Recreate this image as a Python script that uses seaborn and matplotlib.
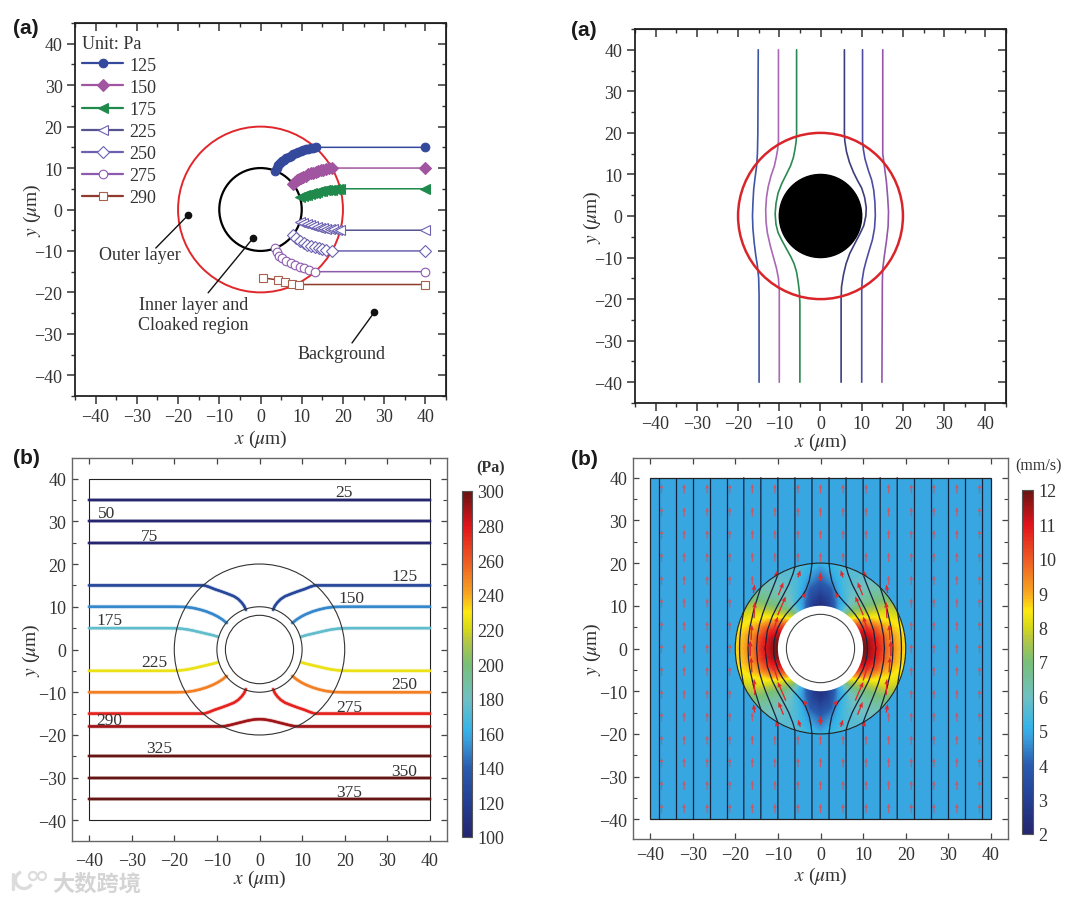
import numpy as np
import seaborn as sns
import matplotlib
matplotlib.use("Agg")
import matplotlib.pyplot as plt
import matplotlib.patheffects as pe
from matplotlib.cm import ScalarMappable
from matplotlib.colors import LinearSegmentedColormap, Normalize
from matplotlib.lines import Line2D
from matplotlib.patches import Arc, Circle, Rectangle
from matplotlib.ticker import MultipleLocator

WIDTH, HEIGHT = 1080, 904

# ---- panel (a) top left: pressure contours with markers
p_levels = ["125", "150", "175", "225", "250", "275", "290"]
p_x = {
    "125": [3.5, 3.9, 4.3, 4.8, 5.3, 5.8, 6.3, 6.8, 7.4, 8, 8.6, 9.2, 9.8, 10.4, 11, 11.6, 12.2, 12.8, 13.5, 40],
    "150": [7.8, 8.3, 8.8, 9.3, 9.8, 10.4, 11, 11.6, 12.2, 12.8, 13.4, 14, 14.6, 15.2, 15.8, 16.5, 17.3, 40],
    "175": [9.6, 10.2, 10.8, 11.4, 12, 12.6, 13.2, 13.8, 14.4, 15, 15.6, 16.2, 16.8, 17.4, 18, 18.7, 19.4, 40],
    "225": [9.6, 10.4, 11.2, 12, 12.8, 13.6, 14.4, 15.2, 16, 16.8, 17.6, 18.5, 19.4, 40],
    "250": [7.8, 8.7, 9.6, 10.5, 11.4, 12.3, 13.2, 14.1, 15, 16, 17.3, 40],
    "275": [3.5, 3.9, 4.5, 5.3, 6.3, 7.3, 8.4, 9.5, 10.6, 11.8, 13.3, 40],
    "290": [0.65, 4.2, 6, 7.7, 9.4, 40],
}
p_y = {
    "125": [9.4, 10.1, 10.7, 11.2, 11.6, 12, 12.4, 12.7, 13, 13.3, 13.6, 13.9, 14.1, 14.3, 14.5, 14.7, 14.8, 14.9, 15, 15],
    "150": [6.2, 6.6, 7, 7.3, 7.6, 7.9, 8.2, 8.5, 8.7, 8.9, 9.1, 9.3, 9.5, 9.6, 9.75, 9.9, 10, 10],
    "175": [3, 3.2, 3.4, 3.6, 3.8, 3.95, 4.1, 4.25, 4.4, 4.5, 4.6, 4.7, 4.75, 4.8, 4.85, 4.95, 5, 5],
    "225": [-3, -3.3, -3.55, -3.8, -4, -4.2, -4.35, -4.5, -4.6, -4.7, -4.8, -4.9, -5, -5],
    "250": [-6.2, -6.95, -7.5, -8, -8.45, -8.8, -9.1, -9.35, -9.6, -9.8, -10, -10],
    "275": [-9.3, -10.3, -11.1, -11.8, -12.4, -12.9, -13.4, -13.8, -14.2, -14.6, -15, -15],
    "290": [-16.5, -17, -17.5, -17.9, -18.1, -18.1],
}
p_colors = ["#34499c", "#a1549f", "#1f8a4c", "#54548f", "#6a62b0", "#8e5aae", "#8f3a2c"]
p_markers = ["o", "D", "<", "<", "D", "o", "s"]
p_filled = [True, True, True, False, False, False, False]
p_marker_edges = ["#34499c", "#a1549f", "#1f8a4c", "#6a62b0", "#6a62b0", "#8e5aae", "#a8604c"]
p_marker_sizes = [6.2, 5.8, 6.5, 6.5, 5.8, 6.2, 5.2]

# ---- panel (a) top right: streamlines
stream_x = {
    0: [-15.1, -15.2, -15.3, -15.5, -15.9, -16.2, -16.4, -16.5, -16.4, -16.1, -15.7, -15.3, -15, -14.9, -14.9],
    1: [-10.2, -10.2, -10.4, -10.7, -11.2, -12, -12.7, -13.1, -13.3, -13.2, -12.9, -12.2, -11.4, -10.7, -10.2, -10, -10],
    2: [-5.8, -5.8, -5.9, -6.2, -6.6, -7.3, -8.3, -9.4, -10.3, -10.8, -11, -10.8, -10.3, -9.3, -8.2, -7.2, -6.4, -5.8,
        -5.4, -5.1, -5, -5],
    3: [5.8, 5.8, 5.9, 6.3, 7, 8, 9, 10, 10.7, 11.1, 11, 10.5, 9.6, 8.4, 7.1, 6.2, 5.6, 5.1, 5, 5],
    4: [10.2, 10.2, 10.4, 10.8, 11.6, 12.4, 12.9, 13.2, 13.3, 13.1, 12.6, 11.9, 11.1, 10.5, 10.1, 10, 10],
    5: [15.1, 15.1, 15.5, 16, 16.3, 16.5, 16.4, 16, 15.5, 15.1, 15, 14.9],
}
stream_y = {
    0: [40, 20, 15, 12, 9, 6.5, 3, 0, -3, -6.3, -9.5, -12, -15, -19, -40],
    1: [40, 18, 16, 14.3, 12, 9.7, 7, 4.5, 1.5, -1.5, -4, -7.1, -10, -12.5, -15, -18, -40],
    2: [40, 20, 18, 16, 14, 12, 10, 7.8, 5.5, 3, 0.5, -2, -4, -6, -8, -9.8, -11.5, -13.5, -16, -18.5, -21, -40],
    3: [40, 20, 18, 15.5, 13, 10.5, 8.5, 6.7, 4.5, 2, 0, -2.3, -4.2, -6.5, -9, -11.5, -14, -17, -20, -40],
    4: [40, 18, 16, 13.7, 11, 8.7, 6.3, 3.3, 0, -3, -5.7, -8, -10.7, -13, -15.5, -18, -40],
    5: [40, 15, 12, 8.1, 4.5, 1, -2.5, -6, -9.5, -12.7, -16, -40],
}
stream_colors = ["#3f55a5", "#ab68b5", "#2b8a52", "#3e3e7c", "#4f4ca3", "#9358ad"]

# ---- panel (b) left: pressure isolines, right half of the bent ones
straight_levels = [25, 50, 75, 325, 350, 375]
straight_y = [35, 30, 25, -25, -30, -35]
bent_levels = [125, 150, 175, 225, 250, 275]
bent_x = {
    125: [3.2, 3.6, 4.2, 5, 6, 7.5, 9, 10.5, 12, 13, 40],
    150: [7.7, 8.7, 9.8, 11, 12.5, 14, 15.5, 17.3, 20, 40],
    175: [9.8, 11, 12.5, 14, 15.5, 17, 18.5, 20, 22, 40],
    225: [9.8, 11, 12.5, 14, 15.5, 17, 18.5, 20, 22, 40],
    250: [7.7, 8.7, 9.8, 11, 12.5, 14, 15.5, 17.3, 20, 40],
    275: [3.2, 3.6, 4.2, 5, 6, 7.5, 9, 10.5, 12, 13, 40],
}
bent_y = {
    125: [9.3, 10.2, 11, 11.8, 12.45, 13.05, 13.6, 14.1, 14.7, 15, 15],
    150: [6.2, 7, 7.7, 8.3, 8.9, 9.35, 9.7, 9.95, 10, 10],
    175: [3, 3.35, 3.7, 4.05, 4.4, 4.7, 4.88, 4.97, 5, 5],
    225: [-3, -3.35, -3.7, -4.05, -4.4, -4.7, -4.88, -4.97, -5, -5],
    250: [-6.2, -7, -7.7, -8.3, -8.9, -9.35, -9.7, -9.95, -10, -10],
    275: [-9.3, -10.2, -11, -11.8, -12.45, -13.05, -13.6, -14.1, -14.7, -15, -15],
}
line_290_x = [-40, -9, -8, -7, -6, -5, -4, -3, -2, -1, 0, 1, 2, 3, 4, 5, 6, 7, 8, 9, 40]
line_290_y = [-18, -18, -17.9, -17.7, -17.45, -17.2, -16.95, -16.7, -16.5, -16.35, -16.3,
              -16.35, -16.5, -16.7, -16.95, -17.2, -17.45, -17.7, -17.9, -18, -18]
iso_labels = ["25", "50", "75", "125", "150", "175", "225", "250", "275", "290", "325", "350", "375"]
iso_label_x = [19.9, -36, -25.7, 34, 21.5, -35.3, -24.7, 34, 21, -35.3, -23.6, 33.9, 21]
iso_label_y = [36.8, 31.9, 26.6, 17.3, 12, 7, -3, -8.1, -13.4, -16.6, -23.1, -28.5, -33.4]

# ---- panel (b) right: speed in the outer layer, one quadrant (rows: angle, cols: radius)
field_r = [10, 12, 14, 16, 18, 20]
field_deg = [0, 10, 20, 30, 40, 50, 60, 70, 80, 90]
field_speed = [
    [12.0, 11.3, 10.6, 9.6, 9.0, 8.6],
    [11.8, 11.2, 10.4, 9.5, 8.9, 8.5],
    [11.3, 10.7, 9.8, 8.9, 8.5, 8.2],
    [10.4, 9.6, 8.6, 8.2, 7.9, 7.5],
    [9.0, 8.0, 7.4, 7.0, 6.8, 6.5],
    [7.6, 6.9, 6.5, 6.3, 6.2, 6.0],
    [5.5, 5.5, 5.8, 5.9, 5.8, 5.7],
    [4.0, 4.6, 5.1, 5.4, 5.5, 5.7],
    [2.8, 3.3, 3.9, 4.6, 5.0, 5.3],
    [2.3, 2.7, 3.4, 4.0, 4.5, 5.0],
]
background_speed = 4.9

line_columns = [-38, -34, -30, -26, -22, 22, 26, 30, 34, 38]
# curved part of the flow lines, upper right quadrant
flow_x = {
    2: [11, 10.92, 10.7, 9.95, 9, 8.07, 6.55, 5.47, 4.16, 3.43, 2.64, 2.24, 2],
    6: [13, 12.49, 11.32, 10.07, 9, 7.47, 6.51, 6],
    10: [15, 14.8, 14.29, 13.57, 12.8, 11.4, 10.55, 10],
    14: [17, 16.9, 16.6, 15.68, 14.59, 14],
    18: [19, 18.94, 18.76, 18.14, 18],
}
flow_y = {
    2: [0, 1.37, 2.68, 4.97, 6.75, 8.07, 9.83, 10.95, 12.49, 13.7, 15.86, 17.93, 19.9],
    6: [0, 4.16, 7.55, 10.07, 12, 14.94, 17.36, 19.08],
    10: [0, 2.96, 5.71, 8.14, 10.24, 13.68, 15.82, 17.32],
    14: [0, 2.41, 4.75, 8.96, 12.5, 14.28],
    18: [0, 2.1, 4.17, 8.06, 8.72],
}

arrow_columns = [-37.3, -32, -26.6, -21.3, -16, -10.7, -5.3, 0, 5.3, 10.7, 16, 21.3, 26.6, 32, 37.3]
arrow_rows = [37.4, 32, 26.7, 21.4, 16, 10.7, 5.3, 0, -5.3, -10.7, -16, -21.4, -26.7, -32, -37.4]
# arrows inside the outer layer, upper right quadrant
inner_arrow_x = [0, 5.0, 10.3, 3.7, 9.3, 9.1, 15.5, 15.6, 10.6, 16.2, 16.5]
inner_arrow_y = [16.8, 17.5, 17.6, 12.6, 14.0, 10.0, 9.0, 14.0, 5.6, 3.8, 0.0]
inner_arrow_u = [0, -0.5, -0.3, -0.8, -1.2, -1.9, -0.2, -0.3, -1.2, -0.2, 0]
inner_arrow_v = [1.9, 1.7, 1.3, 1.0, 3.0, 4.4, 3.8, 2.0, 3.8, 3.6, 3.6]

# ---- colorbars
pa_ticks = [100, 120, 140, 160, 180, 200, 220, 240, 260, 280, 300]
speed_ticks = [2, 3, 4, 5, 6, 7, 8, 9, 10, 11, 12]

sns.set_style("ticks")
plt.rcParams["font.family"] = ["Liberation Serif", "DejaVu Serif"]
plt.rcParams["mathtext.fontset"] = "stix"
plt.rcParams["text.color"] = "#333333"
plt.rcParams["axes.labelcolor"] = "#333333"
plt.rcParams["xtick.color"] = "#333333"
plt.rcParams["ytick.color"] = "#333333"
plt.rcParams["font.size"] = 12.5

comsol = LinearSegmentedColormap.from_list(
    "comsol",
    [
        (0.0, "#25266f"), (0.1, "#243f93"), (0.2, "#2a5cae"), (0.28, "#3a9fdc"),
        (0.31, "#35b4e8"), (0.4, "#70c0c2"), (0.5, "#79bf78"), (0.57, "#b8c840"),
        (0.6, "#d5d81a"), (0.65, "#fde910"), (0.7, "#f8a820"), (0.8, "#ee5a24"),
        (0.9, "#e2131b"), (1.0, "#651513"),
    ],
)
pa_norm = Normalize(100, 300)
speed_norm = Normalize(2, 12)


def px_axes(fig, left, top, right, bottom):
    return fig.add_axes([left / WIDTH, 1 - bottom / HEIGHT, (right - left) / WIDTH, (bottom - top) / HEIGHT])


def set_labels(ax, xlabel_at, ylabel_at):
    ax.set_xlabel(r"$x$ ($\mu$m)", fontsize=14, va="center")
    ax.set_ylabel(r"$y$ ($\mu$m)", fontsize=14, va="center")
    ax.xaxis.set_label_coords(0.5, xlabel_at)
    ax.yaxis.set_label_coords(ylabel_at, 0.5)


def style_line_frame(ax, xlim, ylim, xlabel_at, ylabel_at):
    # top panels: ticks out on left/bottom, in on top/right
    ax.set_xlim(*xlim)
    ax.set_ylim(*ylim)
    ax.xaxis.set_major_locator(MultipleLocator(10))
    ax.yaxis.set_major_locator(MultipleLocator(10))
    ax.xaxis.set_minor_locator(MultipleLocator(5))
    ax.yaxis.set_minor_locator(MultipleLocator(5))
    ax.tick_params(which="major", direction="out", length=6, width=1.1, pad=3, labelsize=13)
    ax.tick_params(which="minor", direction="out", length=3, width=1)
    for spine in ax.spines.values():
        spine.set_visible(True)
        spine.set_linewidth(1.3)
        spine.set_color("#222222")
    sec_x = ax.secondary_xaxis("top")
    sec_x.xaxis.set_major_locator(MultipleLocator(10))
    sec_x.xaxis.set_minor_locator(MultipleLocator(5))
    sec_x.tick_params(which="major", direction="in", length=6, width=1.1, labeltop=False)
    sec_x.tick_params(which="minor", direction="in", length=3, width=1)
    sec_y = ax.secondary_yaxis("right")
    sec_y.yaxis.set_major_locator(MultipleLocator(10))
    sec_y.yaxis.set_minor_locator(MultipleLocator(5))
    sec_y.tick_params(which="major", direction="in", length=6, width=1.1, labelright=False)
    sec_y.tick_params(which="minor", direction="in", length=3, width=1)
    set_labels(ax, xlabel_at, ylabel_at)


def style_field_frame(ax, xlim, ylim, xlabel_at, ylabel_at, xpad=8):
    # bottom panels: thin grey frame, small inward ticks
    ax.set_xlim(*xlim)
    ax.set_ylim(*ylim)
    ax.xaxis.set_major_locator(MultipleLocator(10))
    ax.yaxis.set_major_locator(MultipleLocator(10))
    ax.yaxis.set_minor_locator(MultipleLocator(5))
    ax.tick_params(which="major", direction="in", length=4, width=0.9, labelsize=13,
                   top=True, right=True, color="#444444")
    ax.tick_params(axis="x", which="major", pad=xpad)
    ax.tick_params(axis="y", which="major", pad=4)
    ax.tick_params(which="minor", axis="y", direction="in", length=3, width=0.8, left=True, right=True,
                   color="#444444")
    for spine in ax.spines.values():
        spine.set_visible(True)
        spine.set_linewidth(1.0)
        spine.set_color("#666666")
    set_labels(ax, xlabel_at, ylabel_at)


def draw_colorbar(fig, rect, norm, ticks):
    cax = px_axes(fig, *rect)
    cbar = fig.colorbar(ScalarMappable(norm=norm, cmap=comsol), cax=cax, ticks=ticks)
    cbar.outline.set_edgecolor("#555555")
    cbar.outline.set_linewidth(0.8)
    cax.tick_params(direction="in", length=2, width=0.8, pad=4, labelsize=13, color="#222222")
    return cbar


def put_line(ax, x, y, color, lw, zorder=3, **kwargs):
    sns.lineplot(x=x, y=y, color=color, linewidth=lw, sort=False, estimator=None, ax=ax,
                 legend=False, zorder=zorder, **kwargs)


def put_isoline(ax, x, y, color):
    # soft pale edge round the contour, the original is a slightly blurred scan
    halo = [pe.withStroke(linewidth=2.9, foreground=color, alpha=0.3), pe.Normal()]
    put_line(ax, x, y, color, 1.6, path_effects=halo)


fig = plt.figure(figsize=(WIDTH / 100, HEIGHT / 100), dpi=100)

# ---------------- top left
ax = px_axes(fig, 75, 24, 446, 397)
ax.add_patch(Circle((0, 0), 20, fill=False, edgecolor="#e0272b", linewidth=1.4, zorder=2))
ax.add_patch(Circle((0, 0), 10, fill=False, edgecolor="black", linewidth=1.6, zorder=2))
handles = []
for i, level in enumerate(p_levels):
    color, marker, edge, msize = p_colors[i], p_markers[i], p_marker_edges[i], p_marker_sizes[i]
    face = color if p_filled[i] else "white"
    put_line(ax, p_x[level], p_y[level], color, 1.1, marker=marker, markersize=msize,
             markerfacecolor=face, markeredgecolor=edge, markeredgewidth=0.8)
    handles.append(Line2D([], [], color=color, linewidth=1.6, marker=marker, markersize=msize,
                          markerfacecolor=face, markeredgecolor=edge, markeredgewidth=0.8, label=level))
legend = ax.legend(handles=handles, title="Unit: Pa", loc="upper left", frameon=False, fontsize=13,
                   title_fontsize=13, bbox_to_anchor=(0.0, 0.988), borderaxespad=0.2, borderpad=0.2,
                   labelspacing=0.28, handlelength=2.25, handletextpad=0.35, alignment="left")

dot_x = [-17.5, -1.8, 27.6]
dot_y = [-1.3, -6.9, -24.8]
lead_x = [-25.4, -12.7, 22.2]
lead_y = [-9.3, -20.1, -32.2]
note_x = [-29.3, -16.3, 19.7]
note_y = [-10.9, -25.4, -34.7]
notes = ["Outer layer", "Inner layer and\nCloaked region", "Background"]
for i, note in enumerate(notes):
    put_line(ax, [dot_x[i], lead_x[i]], [dot_y[i], lead_y[i]], "#111111", 1.0)
    ax.plot(dot_x[i], dot_y[i], "o", color="#111111", markersize=4.5)
    ax.text(note_x[i], note_y[i], note, ha="center", va="center", fontsize=13, linespacing=1.25)
style_line_frame(ax, (-45, 45), (-45, 45), -0.115, -0.116)

# ---------------- top right
ax = px_axes(fig, 635, 30, 1006, 404)
ax.add_patch(Circle((0, 0), 10, facecolor="black", edgecolor="black", zorder=4))
ax.add_patch(Circle((0, 0), 20, fill=False, edgecolor="#d9252a", linewidth=1.8, zorder=5))
for i, color in enumerate(stream_colors):
    put_line(ax, stream_x[i], stream_y[i], color, 1.2)
style_line_frame(ax, (-45, 45), (-45, 45), -0.104, -0.116)

# ---------------- bottom left
ax = px_axes(fig, 72, 459, 447, 842)
ax.add_patch(Rectangle((-40, -40), 80, 80, fill=False, edgecolor="#222222", linewidth=0.8))
for radius in [20, 10, 8]:
    ax.add_patch(Circle((0, 0), radius, fill=False, edgecolor="#333333", linewidth=0.8, zorder=4))
for level, y in zip(straight_levels, straight_y):
    put_isoline(ax, [-40, 40], [y, y], comsol(pa_norm(level)))
for level in bent_levels:
    color = comsol(pa_norm(level))
    put_isoline(ax, bent_x[level], bent_y[level], color)
    put_isoline(ax, [-v for v in bent_x[level]], bent_y[level], color)
put_isoline(ax, line_290_x, line_290_y, comsol(pa_norm(290)))
for label, x, y in zip(iso_labels, iso_label_x, iso_label_y):
    ax.text(x, y, label, ha="center", va="center", fontsize=12.5, zorder=6)
style_field_frame(ax, (-44, 44), (-44.8, 44.8), -0.097, -0.107)
draw_colorbar(fig, (462, 492, 472, 838), pa_norm, pa_ticks)
fig.text(491 / WIDTH, 1 - 468 / HEIGHT, "(Pa)", ha="center", va="center", fontsize=11.5, fontweight="bold")

# ---------------- bottom right
ax = px_axes(fig, 633, 459, 1008, 840)
ax.pcolormesh([-40, 40], [-40, 40], [[background_speed]], cmap=comsol, norm=speed_norm, zorder=1)

quadrant = np.array(field_speed)
upper = np.vstack([quadrant, quadrant[-2::-1]])
ring = np.vstack([upper, upper[-2::-1]])
angles = np.radians(np.r_[field_deg, 180 - np.array(field_deg[-2::-1]),
                          180 + np.array(field_deg[1:]), 360 - np.array(field_deg[-2::-1])])
rad, ang = np.meshgrid(field_r, angles)
ax.contourf(rad * np.cos(ang), rad * np.sin(ang), ring, levels=np.linspace(2, 12, 101),
            cmap=comsol, norm=speed_norm, zorder=2)
ax.add_patch(Circle((0, 0), 10, facecolor="white", edgecolor="none", zorder=3))
ax.add_patch(Circle((0, 0), 8, fill=False, edgecolor="#444444", linewidth=0.8, zorder=7))
ax.add_patch(Circle((0, 0), 20, fill=False, edgecolor="#222222", linewidth=0.8, zorder=7))
ax.add_patch(Rectangle((-40, -40), 80, 80, fill=False, edgecolor="#222222", linewidth=0.9, zorder=7))

for col in line_columns:
    put_line(ax, [col, col], [-40, 40], "#16233a", 0.9, zorder=5)
for col in flow_x:
    xs, ys = flow_x[col], flow_y[col]
    for side in [-1, 1]:
        full_x = [side * col] + [side * v for v in xs[::-1]] + [side * v for v in xs[1:]] + [side * col]
        full_y = [-40] + [-v for v in ys[::-1]] + ys[1:] + [40]
        put_line(ax, full_x, full_y, "#16233a", 0.9, zorder=5)

# uniform arrows outside the outer layer
grid_x, grid_y = np.meshgrid(arrow_columns, arrow_rows)
keep = np.hypot(grid_x, grid_y) > 20
ax.quiver(grid_x[keep], grid_y[keep], np.zeros(keep.sum()), np.full(keep.sum(), 2.2), angles="xy",
          scale_units="xy", scale=1, pivot="mid", color="#cf5560", width=0.003, headwidth=3.2,
          headlength=4, headaxislength=3.6, zorder=6)
# bent arrows inside it, mirrored into all four quadrants
in_x = np.array(inner_arrow_x)
in_y = np.array(inner_arrow_y)
in_u = np.array(inner_arrow_u)
in_v = np.array(inner_arrow_v)
for sx, sy in [(1, 1), (-1, 1), (1, -1), (-1, -1)]:
    ax.quiver(sx * in_x, sy * in_y, sx * sy * in_u, in_v, angles="xy", scale_units="xy", scale=1,
              pivot="mid", color="#dd2a2e", width=0.0036, headwidth=3.4, headlength=4.2,
              headaxislength=3.8, zorder=6)
style_field_frame(ax, (-44, 44), (-44.6, 44.6), -0.095, -0.109, xpad=5)
draw_colorbar(fig, (1022, 491, 1033, 835), speed_norm, speed_ticks)
fig.text(1039 / WIDTH, 1 - 466 / HEIGHT, "(mm/s)", ha="center", va="center", fontsize=11.5)

# ---------------- panel letters and watermark
letter_x = [13, 571, 13, 571]
letter_y = [28, 30, 459, 460]
for lx, ly, letter in zip(letter_x, letter_y, ["(a)", "(a)", "(b)", "(b)"]):
    fig.text(lx / WIDTH, 1 - ly / HEIGHT, letter, ha="left", va="center", fontsize=15,
             fontweight="bold", family=["Liberation Sans"], color="#1a1a1a")
fig.text(52 / WIDTH, 1 - 884 / HEIGHT, "大数跨境", ha="left", va="center", fontsize=16,
         family=["Noto Sans CJK SC"], color="#d4d4d4", fontweight="bold")

# logo next to the watermark text, in figure pixels
logo = fig.add_axes([0, 0, 1, 1], facecolor="none")
logo.set_xlim(0, WIDTH)
logo.set_ylim(HEIGHT, 0)
logo.axis("off")
logo.plot([13, 13], [875, 890], color="#dcdcdc", linewidth=2.4)
logo.add_patch(Arc((24, 881), 17, 17, theta1=30, theta2=250, edgecolor="#dcdcdc", linewidth=2.4))
logo.add_patch(Circle((33, 877), 4, fill=False, edgecolor="#dcdcdc", linewidth=1.6))
logo.add_patch(Circle((42, 877), 4, fill=False, edgecolor="#dcdcdc", linewidth=1.6))

fig.savefig("out.png", dpi=100)
